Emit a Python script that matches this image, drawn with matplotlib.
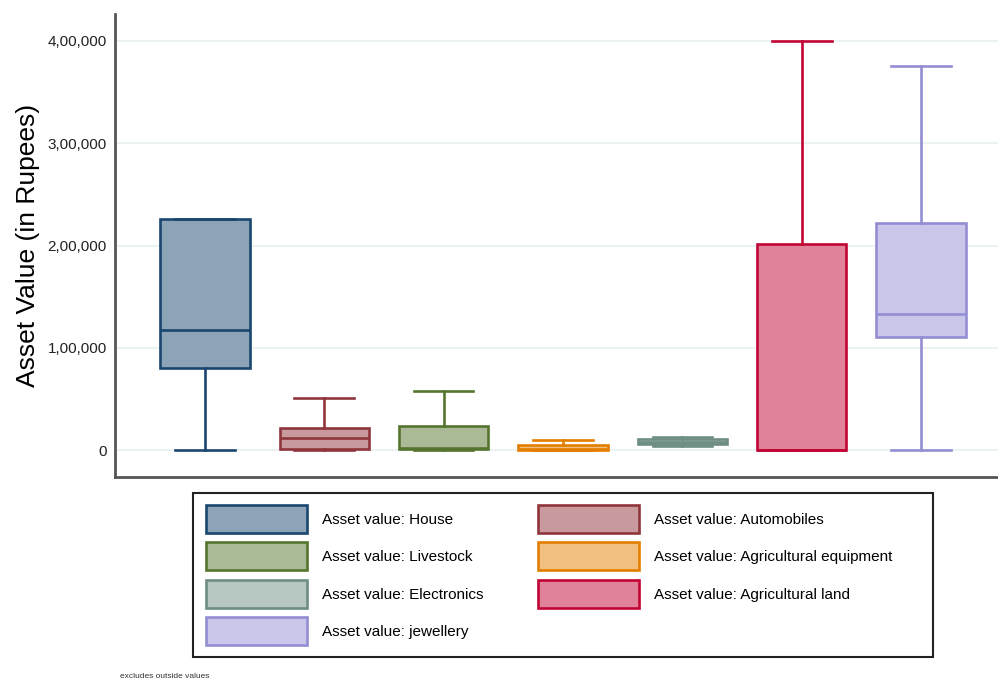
import matplotlib
matplotlib.use("Agg")
import matplotlib.pyplot as plt
from matplotlib.patches import Patch, Rectangle
from matplotlib.colors import to_rgb

plt.rcParams['font.family'] = ['Liberation Sans', 'DejaVu Sans']

categories = ["House", "Automobiles", "Livestock", "Agricultural equipment",
              "Electronics", "Agricultural land", "jewellery"]
whislo = [0, 0, 0, 0, 3500, 0, 0]
q1 = [80000, 1000, 1000, 0, 6000, 0, 111000]
med = [117000, 12000, 2000, 1000, 8000, 0, 133000]
q3 = [226000, 21500, 23500, 5000, 10500, 201000, 222000]
whishi = [226000, 51000, 57500, 10000, 13000, 400000, 375500]
yticks = [0, 100000, 200000, 300000, 400000]
ytick_labels = ["0", "1,00,000", "2,00,000", "3,00,000", "4,00,000"]

edge_colors = ["#1a476f", "#90353b", "#55752f", "#e37e00", "#6e8e84", "#c10534", "#938dd2"]

def fill_of(c, a=0.5):
    r, g, b = to_rgb(c)
    return (1 - a + a * r, 1 - a + a * g, 1 - a + a * b)

W, H = 998, 682
fig = plt.figure(figsize=(W / 100, H / 100), dpi=100)
ax = fig.add_axes([115 / W, 1 - 477 / H, (W - 115) / W, (477 - 14) / H])

positions = list(range(1, len(categories) + 1))
for i, c in enumerate(categories):
    ec = edge_colors[i]
    s = dict(label=c, whislo=whislo[i], q1=q1[i], med=med[i], q3=q3[i],
             whishi=whishi[i], fliers=[])
    ax.bxp([s], positions=[positions[i]], widths=0.75, patch_artist=True,
           showfliers=False,
           boxprops=dict(facecolor=fill_of(ec), edgecolor=ec, linewidth=1.9),
           medianprops=dict(color=ec, linewidth=1.9),
           whiskerprops=dict(color=ec, linewidth=1.9),
           capprops=dict(color=ec, linewidth=1.9),
           capwidths=0.5, zorder=3)

ax.set_xlim(0.246, 7.645)
ax.set_ylim(-26400, 426400)
ax.set_xticks([])
ax.set_yticks(yticks)
ax.set_yticklabels(ytick_labels, fontsize=11)
ax.tick_params(axis='y', length=0, pad=6, colors="#222222")
ax.grid(axis='y', color="#e8f0f2", linewidth=1.2, zorder=0)
ax.set_axisbelow(True)
for side in ["top", "right"]:
    ax.spines[side].set_visible(False)
for side in ["left", "bottom"]:
    ax.spines[side].set_color("#555555")
    ax.spines[side].set_linewidth(2)
ax.set_ylabel("Asset Value (in Rupees)", fontsize=19, labelpad=5)

# legend frame
fig.add_artist(Rectangle((193 / W, 1 - 657 / H), (933 - 193) / W, (657 - 493) / H,
                         transform=fig.transFigure, facecolor="white",
                         edgecolor="#222222", linewidth=1.5, zorder=1))

handles = [Patch(facecolor=fill_of(edge_colors[i]), edgecolor=edge_colors[i], linewidth=1.9,
                 label="Asset value: " + categories[i]) for i in range(len(categories))]
order = [0, 2, 4, 6, 1, 3, 5]
leg = fig.legend([handles[k] for k in order], [handles[k].get_label() for k in order],
                 ncol=2, loc='upper left', bbox_to_anchor=(206 / W, 1 - 505 / H),
                 fontsize=11, frameon=False,
                 handlelength=6.6, handleheight=2.44, handletextpad=1.0,
                 labelspacing=0.62, columnspacing=3.55, borderpad=0, borderaxespad=0)
leg.set_zorder(2)

fig.text(120 / W, 1 - 677 / H, "excludes outside values", fontsize=6, va='center', ha='left',
         color="#333333")

fig.savefig("out.png", dpi=100)
